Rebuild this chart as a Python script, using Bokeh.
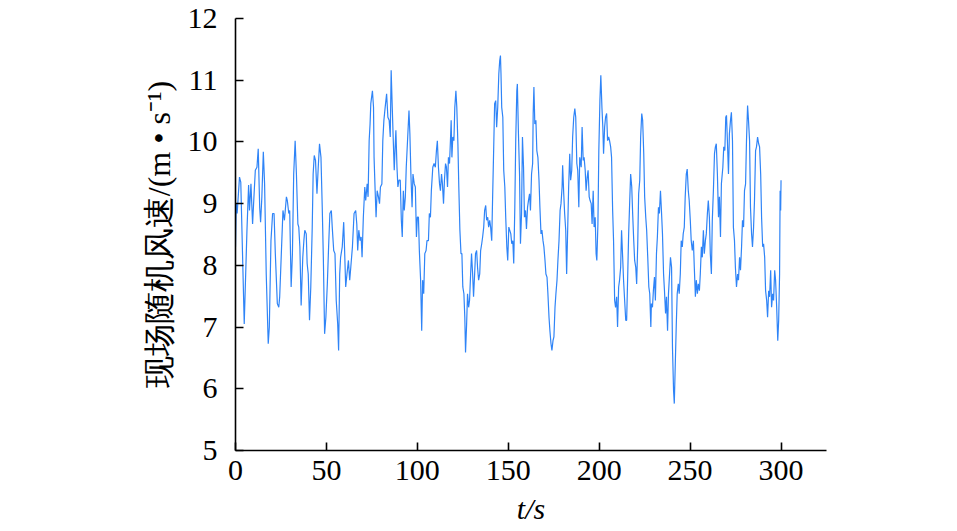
from bokeh.plotting import figure
from bokeh.models import Range1d, FixedTicker
from bokeh.embed import file_html
from bokeh.resources import INLINE

# ---- data (time in s, wind speed in m/s) ----
t_seg1 = [0, 0.4, 0.9, 2.2, 2.9, 4.8, 6.3, 7.2, 7.7, 8.5, 9.4, 9.9, 10.9, 11.8, 12.5, 13.3, 13.8, 14.5, 15.3, 16.0,
          16.9, 18.0, 18.6, 19.5, 20.4, 21.2, 21.9, 23.0, 23.8, 24.3, 25.2, 26.1, 26.9, 28.0, 28.5, 29.3, 29.8, 30.6,
          31.3, 32.0, 32.8, 33.5, 34.3]
v_seg1 = [8.30, 9.00, 8.84, 9.43, 9.35, 7.05, 8.57, 9.30, 8.89, 9.32, 8.67, 8.97, 9.54, 9.59, 9.89, 8.94, 8.70, 9.11,
          9.84, 9.32, 7.86, 6.73, 7.00, 8.40, 8.84, 8.84, 8.19, 7.38, 7.32, 7.49, 8.19, 8.89, 8.73, 9.11, 9.05, 8.84,
          8.89, 7.65, 8.19, 9.48, 10.02, 9.48, 8.67]

t_seg2 = [34.8, 35.4, 36.1, 37.0, 37.6, 38.1, 38.9, 39.4, 40.0, 40.7, 41.4, 42.2, 42.7, 43.3, 44.0, 44.8, 45.5, 46.2,
          47.0, 47.7, 48.3, 49.0, 49.7, 50.5, 51.2, 51.9, 52.7, 53.2, 54.0, 54.7, 55.4, 56.2, 56.7, 57.3, 57.8, 58.7,
          59.5, 60.0, 60.6, 61.3, 62.1, 62.8, 63.4, 64.3, 65.2, 66.1, 66.7, 67.2, 67.8, 68.5, 69.1, 69.6, 70.3, 71.1,
          71.6, 72.4, 72.9, 73.5, 74.0]
v_seg2 = [8.62, 8.30, 7.35, 8.13, 8.40, 8.57, 8.51, 8.03, 7.86, 7.11, 7.65, 8.62, 9.48, 9.78, 9.70, 9.16, 9.59, 9.97,
          9.75, 8.94, 8.13, 6.89, 7.16, 7.70, 8.30, 8.84, 8.89, 8.62, 8.24, 8.19, 7.43, 7.05, 6.62, 7.86, 8.13, 8.30,
          8.70, 8.24, 7.65, 7.86, 8.08, 7.76, 7.97, 8.30, 8.84, 8.89, 8.67, 8.24, 8.57, 8.40, 8.46, 8.13, 8.78, 9.27,
          9.05, 9.32, 9.11, 10.02, 10.29]

t_seg3 = [74.4, 75.3, 75.9, 76.2, 76.8, 77.3, 77.9, 78.6, 79.2, 79.7, 80.5, 81.0, 81.6, 82.3, 83.1, 83.8, 84.5, 85.1,
          85.6, 86.2, 86.7, 87.3, 87.8, 88.2, 88.8, 89.3, 89.9, 90.6, 91.2, 91.7, 92.3, 92.8, 93.4, 93.9, 94.6, 95.4,
          95.9, 96.5, 97.1, 97.6, 98.3, 98.9, 99.5, 100.0, 100.6, 101.1, 101.8, 102.4, 102.9, 103.5, 104.1, 104.8,
          105.3, 106.1, 106.6, 107.2, 107.7, 108.5, 109.2, 109.9, 110.5, 111.0, 111.6]
v_seg3 = [10.62, 10.83, 10.56, 9.75, 9.21, 8.78, 9.21, 9.11, 9.00, 9.27, 9.32, 10.02, 10.35, 10.56, 10.78, 10.40,
          10.35, 10.08, 11.16, 10.56, 10.08, 9.54, 9.92, 10.19, 9.59, 9.27, 9.38, 9.38, 8.73, 8.46, 9.21, 8.89, 9.11,
          9.59, 10.02, 10.51, 10.13, 9.43, 8.94, 9.48, 9.32, 9.27, 8.46, 8.78, 8.78, 8.24, 7.76, 6.94, 7.76, 7.54,
          8.19, 8.24, 8.40, 8.40, 8.84, 8.78, 9.21, 9.59, 9.65, 9.59, 9.86, 10.02, 9.59]

t_seg4 = [112.2, 112.7, 113.3, 113.8, 114.4, 114.9, 115.5, 116.0, 116.6, 117.1, 117.7, 118.2, 118.6, 119.0, 119.5,
          120.1, 120.6, 121.2, 121.7, 122.3, 122.8, 123.4, 124.0, 124.5, 125.0, 125.6, 126.1, 126.5, 127.1, 127.6,
          128.2, 128.7, 129.3, 129.8, 130.4, 130.9, 131.5, 132.0, 132.6, 133.1, 133.7, 134.3, 134.8, 135.4, 135.9,
          136.5, 137.0, 137.6, 138.1, 138.7, 139.2, 139.8, 140.3, 140.9, 141.4, 142.0, 142.5, 143.1, 143.6, 144.2,
          144.8, 145.3, 145.7, 146.0, 146.4, 147.0, 147.5, 148.1, 148.6, 149.2, 149.7, 150.3]
v_seg4 = [9.32, 9.21, 9.48, 9.32, 9.00, 9.38, 9.65, 9.59, 9.27, 9.75, 9.65, 10.02, 10.35, 9.75, 10.08, 10.02, 10.56,
          10.83, 10.56, 9.97, 9.27, 8.57, 8.19, 8.19, 7.65, 7.54, 7.16, 6.59, 7.05, 7.54, 7.32, 7.43, 7.86, 8.19, 7.86,
          7.49, 7.86, 8.19, 8.24, 7.97, 7.76, 7.86, 8.24, 8.35, 8.46, 8.62, 8.89, 8.97, 8.73, 8.78, 8.62, 8.73, 8.62,
          8.40, 9.11, 9.92, 10.62, 10.67, 10.24, 10.56, 11.10, 11.32, 11.40, 11.10, 10.56, 10.40, 9.54, 9.27, 8.78,
          8.30, 8.08, 8.62]

t_seg5 = [151.4, 151.9, 152.5, 153.0, 153.6, 154.1, 154.7, 155.0, 155.6, 156.2, 156.7, 157.3, 157.8, 158.4, 158.9,
          159.5, 160.0, 160.6, 161.1, 161.7, 162.2, 162.8, 163.4, 163.7, 164.1, 164.6, 165.2, 165.7, 166.3, 166.9,
          167.4, 168.0, 168.5, 169.1, 169.6, 170.2, 170.7, 171.3, 171.8, 172.4, 172.9, 173.5, 174.0, 174.6, 175.1,
          175.7, 176.2, 176.8, 177.3, 177.9, 178.5, 179.0, 179.6, 179.9, 180.5, 181.0, 181.6, 182.1, 182.7, 183.2,
          183.8, 184.3, 184.9, 185.4, 186.0, 186.6, 187.1, 187.7, 188.2, 188.8, 189.3]
v_seg5 = [8.51, 8.35, 8.40, 8.03, 8.94, 10.02, 10.83, 10.94, 10.13, 9.48, 8.35, 8.84, 10.08, 9.59, 8.78, 8.89, 8.59,
          8.94, 9.05, 9.16, 8.89, 9.48, 9.65, 10.46, 10.89, 10.29, 10.35, 9.86, 9.75, 9.38, 8.94, 8.51, 8.57, 8.40,
          8.30, 8.08, 7.86, 7.81, 7.54, 7.16, 6.94, 6.73, 6.62, 6.78, 6.84, 7.32, 7.54, 7.76, 8.08, 8.40, 8.89, 9.00,
          9.27, 9.62, 9.16, 8.84, 8.57, 7.86, 8.62, 9.27, 9.81, 9.38, 9.54, 10.08, 10.40, 10.54, 10.40, 9.65, 9.54,
          8.94, 9.75]

t_seg6 = [190.1, 190.6, 191.2, 191.7, 192.3, 192.8, 193.4, 193.9, 194.5, 195.0, 195.6, 196.1, 196.7, 197.2, 197.8,
          198.3, 198.7, 199.3, 199.8, 200.4, 200.9, 201.5, 202.0, 202.4, 203.0, 203.5, 204.1, 204.6, 205.2, 205.7,
          206.3, 206.8, 207.4, 207.9, 208.5, 209.0, 209.6, 210.1, 210.7, 211.2, 211.8, 212.3, 212.9, 213.4, 214.0,
          214.6, 215.1, 215.7, 216.2, 216.8, 217.3, 217.9, 218.4, 219.0, 219.5, 220.1, 220.6, 221.2, 221.7, 222.3,
          222.8, 223.4, 223.9, 224.5, 225.0, 225.6, 226.1, 226.7, 227.3, 227.8, 228.4]
v_seg6 = [9.59, 10.24, 9.70, 9.75, 9.54, 9.21, 9.43, 9.54, 9.11, 9.05, 9.00, 8.67, 9.21, 8.62, 8.78, 8.19, 8.08, 8.67,
          9.86, 10.67, 11.08, 10.56, 10.24, 9.81, 10.24, 10.40, 10.46, 10.02, 10.08, 10.02, 9.92, 9.75, 8.89, 8.40,
          7.43, 7.32, 7.49, 7.00, 7.65, 7.76, 7.97, 8.57, 8.13, 7.76, 7.43, 7.11, 7.11, 7.86, 8.51, 9.05, 9.48, 9.27,
          8.84, 8.40, 8.08, 7.97, 7.70, 8.35, 9.16, 9.38, 10.08, 10.46, 10.35, 9.81, 9.11, 8.78, 8.57, 8.13, 7.65,
          7.54, 7.00]

t_seg7 = [228.7, 229.3, 229.8, 230.4, 230.9, 231.5, 232.0, 232.6, 233.1, 233.7, 234.3, 234.8, 235.4, 235.9, 236.5,
          237.0, 237.6, 238.1, 238.7, 239.2, 239.8, 240.3, 240.9, 241.3, 241.8, 242.4, 242.9, 243.5, 244.0, 244.6,
          245.1, 245.7, 246.2, 246.8, 247.3, 247.9, 248.4, 249.0, 249.5, 250.1, 250.6, 251.2, 251.8, 252.3, 252.9,
          253.4, 254.0, 254.5, 255.1, 255.6, 256.2, 256.7, 257.3, 257.8, 258.4, 258.9, 259.5, 260.0, 260.6, 261.1,
          261.7, 262.2, 262.8, 263.4, 263.9, 264.4, 265.0, 265.6, 266.1, 266.7, 267.2]
v_seg7 = [7.38, 7.32, 7.59, 7.81, 7.43, 8.19, 8.46, 8.94, 8.84, 9.21, 8.84, 8.51, 7.86, 7.59, 7.22, 7.49, 6.94, 7.54,
          7.86, 8.13, 7.97, 6.67, 5.97, 5.76, 6.35, 7.05, 7.54, 7.70, 7.54, 7.86, 8.40, 8.30, 8.51, 8.62, 9.11, 9.48,
          9.56, 9.21, 9.05, 8.73, 8.40, 8.24, 8.40, 7.97, 7.49, 7.76, 7.54, 7.70, 7.59, 7.86, 8.30, 8.13, 8.57, 8.19,
          8.40, 8.51, 8.84, 9.05, 8.78, 8.19, 7.86, 8.73, 9.21, 9.81, 9.92, 9.97, 9.48, 8.78, 9.11, 8.46, 9.32]

t_seg8 = [268.0, 268.5, 269.1, 269.6, 270.0, 270.5, 271.1, 271.6, 272.2, 272.7, 273.3, 273.8, 274.4, 274.9, 275.5,
          276.1, 276.6, 277.2, 277.7, 278.3, 278.8, 279.4, 279.9, 280.5, 281.0, 281.6, 282.1, 282.7, 283.2, 283.8,
          284.3, 284.9, 285.4, 286.0, 286.5, 287.1, 287.7, 288.2, 288.8, 289.3, 289.9, 290.4, 291.0, 291.5, 292.1,
          292.6, 293.2, 293.7, 294.3, 294.8, 295.4, 295.9, 296.5, 297.0, 297.6, 298.2, 298.7, 299.2, 299.5, 299.8,
          300.0]
v_seg8 = [9.59, 9.92, 9.86, 10.40, 10.43, 10.02, 9.48, 10.13, 10.35, 10.48, 10.02, 8.62, 8.40, 7.97, 7.65, 7.86, 7.76,
          8.13, 7.92, 8.30, 8.73, 8.62, 9.21, 9.32, 10.02, 10.59, 10.35, 10.02, 8.94, 8.51, 8.30, 8.62, 9.05, 9.86,
          9.92, 10.08, 9.97, 9.92, 9.48, 8.78, 8.30, 8.35, 8.13, 7.59, 7.43, 7.16, 7.59, 7.49, 7.92, 7.32, 7.54, 7.43,
          7.92, 7.76, 7.32, 6.78, 7.11, 7.86, 9.21, 8.89, 9.38]

x_ticks = [0, 50, 100, 150, 200, 250, 300]
y_ticks = [5, 6, 7, 8, 9, 10, 11, 12]
x_label = "t/s"
y_label = "现场随机风速/(m • s⁻¹)"

t_all, v_all = [], []
for ts, vs in [(t_seg1, v_seg1), (t_seg2, v_seg2), (t_seg3, v_seg3), (t_seg4, v_seg4),
               (t_seg5, v_seg5), (t_seg6, v_seg6), (t_seg7, v_seg7), (t_seg8, v_seg8)]:
    if len(ts) != len(vs):
        raise ValueError(f"length mismatch {len(ts)} vs {len(vs)} at {ts[0]}")
    t_all += ts
    v_all += vs

SERIF = "Liberation Serif"

p = figure(width=957, height=531, output_backend="svg", toolbar_location=None,
           x_range=Range1d(0, 325), y_range=Range1d(5, 12),
           min_border_left=235, min_border_right=131, min_border_top=18, min_border_bottom=81)
p.outline_line_color = None
p.grid.visible = False
p.background_fill_color = "white"
p.border_fill_color = "white"

p.line(t_all, v_all, line_color="#2f84f7", line_width=1.2)

for ax in (p.xaxis[0], p.yaxis[0]):
    ax.axis_line_color = "black"
    ax.axis_line_width = 1.6
    ax.major_tick_line_color = "black"
    ax.major_tick_line_width = 1.6
    ax.major_tick_in = 8
    ax.major_tick_out = 0
    ax.minor_tick_line_color = None
    ax.major_label_text_font = SERIF
    ax.major_label_text_font_size = "30px"
    ax.major_label_text_color = "black"

p.xaxis[0].ticker = FixedTicker(ticks=x_ticks)
p.yaxis[0].ticker = FixedTicker(ticks=y_ticks)
p.xaxis[0].major_label_standoff = 10
p.yaxis[0].major_label_standoff = 18

p.yaxis[0].axis_label = y_label
p.yaxis[0].axis_label_text_font = SERIF
p.yaxis[0].axis_label_text_font_size = "32px"
p.yaxis[0].axis_label_text_font_style = "normal"
p.yaxis[0].axis_label_text_color = "black"
p.yaxis[0].axis_label_standoff = 8

p.xaxis[0].axis_label = x_label
p.xaxis[0].axis_label_text_font = SERIF
p.xaxis[0].axis_label_text_font_size = "30px"
p.xaxis[0].axis_label_text_font_style = "italic"
p.xaxis[0].axis_label_text_color = "black"
p.xaxis[0].axis_label_standoff = 9

open("out.html", "w").write(file_html(p, INLINE))
